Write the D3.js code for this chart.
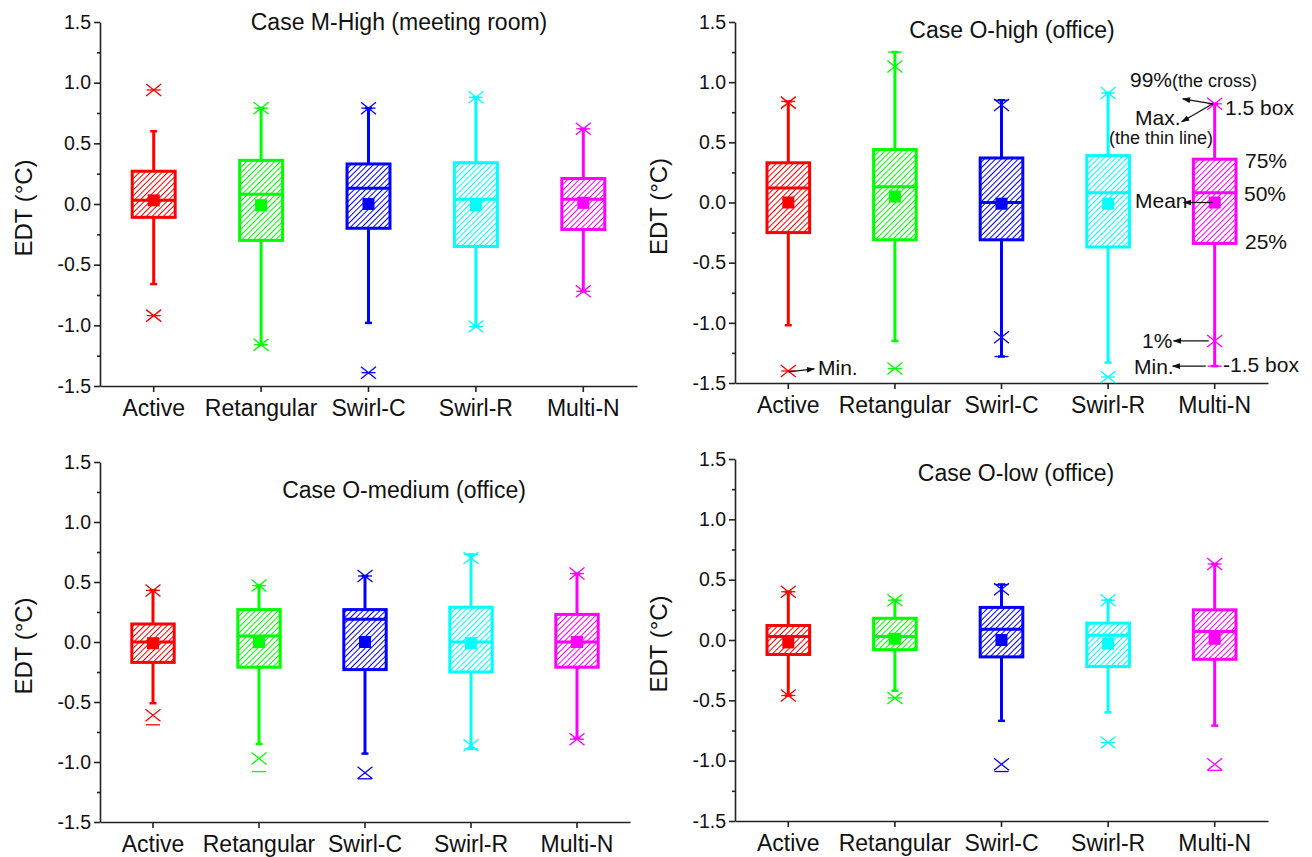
<!DOCTYPE html>
<html lang="en">
<head>
<meta charset="UTF-8">
<title>EDT box charts</title>
<script src="https://cdn.jsdelivr.net/npm/d3@7/dist/d3.min.js"></script>
<style>
  body { margin: 0; background: #fff; }
  svg text { font-family: "Liberation Sans", Arial, sans-serif; fill: #111; }
  .axis path, .axis line { stroke: #222; stroke-width: 1.6px; }
</style>
</head>
<body>
<svg id="chart" width="1312" height="857"></svg>
<script>
const categories = ["Active", "Retangular", "Swirl-C", "Swirl-R", "Multi-N"];
const colors = ["#ff0000", "#00ff00", "#0000ff", "#00ffff", "#ff00ff"];
const titles = ["Case M-High (meeting room)", "Case O-high (office)", "Case O-medium (office)", "Case O-low (office)"];
const yTicks = [-1.5, -1.0, -0.5, 0.0, 0.5, 1.0, 1.5];
const yMinorTicks = [-1.25, -0.75, -0.25, 0.25, 0.75, 1.25];

// one row per panel: M-High, O-high, O-medium, O-low
const q3 = [
  [0.27, 0.36, 0.33, 0.34, 0.21],
  [0.33, 0.44, 0.37, 0.39, 0.36],
  [0.15, 0.27, 0.27, 0.29, 0.23],
  [0.12, 0.18, 0.27, 0.14, 0.25]
];
const median = [
  [0.03, 0.08, 0.13, 0.04, 0.04],
  [0.12, 0.13, 0.00, 0.08, 0.08],
  [0.00, 0.05, 0.19, 0.00, 0.00],
  [0.03, 0.03, 0.09, 0.04, 0.07]
];
const q1 = [
  [-0.11, -0.30, -0.20, -0.35, -0.21],
  [-0.25, -0.31, -0.31, -0.37, -0.34],
  [-0.17, -0.21, -0.23, -0.25, -0.21],
  [-0.12, -0.08, -0.14, -0.22, -0.16]
];
const mean = [
  [0.03, -0.01, 0.00, -0.01, 0.01],
  [0.00, 0.05, -0.01, -0.01, 0.00],
  [-0.01, 0.00, 0.00, -0.01, 0.00],
  [-0.02, 0.01, 0.00, -0.03, 0.01]
];
const whiskerHi = [
  [0.60, 0.79, 0.79, 0.88, 0.62],
  [0.84, 1.25, 0.85, 0.91, 0.82],
  [0.43, 0.47, 0.55, 0.73, 0.57],
  [0.40, 0.33, 0.46, 0.33, 0.63]
];
const whiskerLo = [
  [-0.66, -1.16, -0.98, -1.01, -0.72],
  [-1.02, -1.15, -1.28, -1.33, -1.36],
  [-0.51, -0.85, -0.93, -0.89, -0.80],
  [-0.46, -0.42, -0.67, -0.60, -0.71]
];
const p99 = [
  [0.94, 0.79, 0.79, 0.88, 0.62],
  [0.83, 1.13, 0.81, 0.91, 0.82],
  [0.43, 0.47, 0.55, 0.70, 0.57],
  [0.40, 0.33, 0.42, 0.33, 0.63]
];
const p1 = [
  [-0.92, -1.16, -1.39, -1.01, -0.72],
  [-1.40, -1.38, -1.12, -1.45, -1.15],
  [-0.61, -0.97, -1.09, -0.86, -0.81],
  [-0.46, -0.48, -1.03, -0.85, -1.03]
];
const maxVal = [
  [0.94, 0.79, 0.79, 0.88, 0.62],
  [0.84, 1.25, 0.85, 0.91, 0.82],
  [0.43, 0.47, 0.55, 0.73, 0.57],
  [0.40, 0.33, 0.46, 0.33, 0.63]
];
const minVal = [
  [-0.92, -1.16, -1.39, -1.01, -0.72],
  [-1.40, -1.38, -1.28, -1.45, -1.36],
  [-0.69, -1.08, -1.14, -0.89, -0.81],
  [-0.46, -0.48, -1.09, -0.85, -1.08]
];

// panel placement (plot area edges, title position)
const panels = [
  { x0: 100, x1: 637, yTop: 22, yBot: 386, tx: 399, ty: 30 },
  { x0: 735, x1: 1268, yTop: 22, yBot: 383, tx: 1012, ty: 38 },
  { x0: 100, x1: 630, yTop: 462, yBot: 822, tx: 404, ty: 498 },
  { x0: 735, x1: 1268, yTop: 459, yBot: 821, tx: 1016, ty: 481 }
];

const svg = d3.select("#chart");
const defs = svg.append("defs");

colors.forEach((c, i) => {
  const p = defs.append("pattern")
    .attr("id", "hatch" + i)
    .attr("patternUnits", "userSpaceOnUse")
    .attr("width", 4).attr("height", 4)
    .attr("patternTransform", "rotate(45)");
  p.append("rect").attr("width", 4).attr("height", 4).attr("fill", "#fff");
  p.append("line").attr("x1", 0).attr("y1", 0).attr("x2", 0).attr("y2", 4)
    .attr("stroke", c).attr("stroke-width", 2);
});

defs.append("marker")
  .attr("id", "arrow")
  .attr("viewBox", "0 0 10 10")
  .attr("refX", 9).attr("refY", 5)
  .attr("markerWidth", 7).attr("markerHeight", 7)
  .attr("orient", "auto")
  .append("path").attr("d", "M0,1.5 L10,5 L0,8.5 Z").attr("fill", "#111");

const scales = [];

panels.forEach((pn, k) => {
  const g = svg.append("g");

  const x = d3.scaleBand().domain(categories).range([pn.x0, pn.x1]).padding(0);
  const y = d3.scaleLinear().domain([-1.5, 1.5]).range([pn.yBot, pn.yTop]);
  scales.push({ x, y });
  const bw = x.bandwidth() * 0.4;
  const cx = c => x(c) + x.bandwidth() / 2;

  // axes
  const ya = g.append("g").attr("class", "axis")
    .attr("transform", `translate(${pn.x0},0)`)
    .call(d3.axisLeft(y).tickValues(yTicks).tickSize(6).tickSizeOuter(0).tickPadding(3)
      .tickFormat(d => d.toFixed(1)));
  ya.selectAll("text").style("font-size", "19.5px").attr("fill", "#111");
  g.append("g").attr("class", "axis")
    .attr("transform", `translate(${pn.x0},0)`)
    .call(d3.axisLeft(y).tickValues(yMinorTicks).tickSize(3).tickFormat(""))
    .select(".domain").remove();

  const xa = g.append("g").attr("class", "axis")
    .attr("transform", `translate(0,${pn.yBot})`)
    .call(d3.axisBottom(x).tickSize(6).tickSizeOuter(0).tickPadding(8));
  xa.selectAll("text").style("font-size", "23px").attr("fill", "#111");

  g.append("text")
    .attr("transform", `translate(${pn.x0 - 68},${(pn.yTop + pn.yBot) / 2 + 4}) rotate(-90)`)
    .attr("text-anchor", "middle")
    .style("font-size", "24px")
    .text("EDT (°C)");

  g.append("text")
    .attr("x", pn.tx).attr("y", pn.ty)
    .attr("text-anchor", "middle")
    .style("font-size", "23px")
    .text(titles[k]);

  categories.forEach((c, i) => {
    const col = colors[i];
    const xc = cx(c);
    const b = g.append("g");

    // whisker
    b.append("line")
      .attr("x1", xc).attr("x2", xc)
      .attr("y1", y(whiskerLo[k][i])).attr("y2", y(whiskerHi[k][i]))
      .attr("stroke", col).attr("stroke-width", 3);
    [whiskerLo[k][i], whiskerHi[k][i]].forEach(v => {
      b.append("line")
        .attr("x1", xc - 3.5).attr("x2", xc + 3.5)
        .attr("y1", y(v)).attr("y2", y(v))
        .attr("stroke", col).attr("stroke-width", 2.5);
    });

    // box
    b.append("rect")
      .attr("x", xc - bw / 2).attr("width", bw)
      .attr("y", y(q3[k][i])).attr("height", y(q1[k][i]) - y(q3[k][i]))
      .attr("fill", `url(#hatch${i})`)
      .attr("stroke", col).attr("stroke-width", 3);
    b.append("line")
      .attr("x1", xc - bw / 2).attr("x2", xc + bw / 2)
      .attr("y1", y(median[k][i])).attr("y2", y(median[k][i]))
      .attr("stroke", col).attr("stroke-width", 3);

    // mean
    b.append("rect")
      .attr("x", xc - 6).attr("y", y(mean[k][i]) - 6)
      .attr("width", 12).attr("height", 12)
      .attr("fill", col);

    // 1% / 99% crosses
    [p1[k][i], p99[k][i]].forEach(v => {
      b.append("path")
        .attr("d", `M${xc - 7.5},${y(v) - 6}L${xc + 7.5},${y(v) + 6}M${xc - 7.5},${y(v) + 6}L${xc + 7.5},${y(v) - 6}`)
        .attr("stroke", col).attr("stroke-width", 1.3).attr("fill", "none");
    });

    // min / max dashes
    [minVal[k][i], maxVal[k][i]].forEach(v => {
      b.append("line")
        .attr("x1", xc - 7).attr("x2", xc + 7)
        .attr("y1", y(v)).attr("y2", y(v))
        .attr("stroke", col).attr("stroke-width", 1.3);
    });
  });
});

// explanation labels on the O-high panel
const s = scales[1];
const mx = s.x("Multi-N") + s.x.bandwidth() / 2;
const ax = s.x("Active") + s.x.bandwidth() / 2;
const ann = svg.append("g");

function arrow(x1, y1, x2, y2) {
  ann.append("line")
    .attr("x1", x1).attr("y1", y1).attr("x2", x2).attr("y2", y2)
    .attr("stroke", "#111").attr("stroke-width", 1.2)
    .attr("marker-end", "url(#arrow)");
}
function label(txt, x, y, size) {
  return ann.append("text").attr("x", x).attr("y", y).style("font-size", size + "px").text(txt);
}

const t99 = label("99%", 1130, 87, 21);
t99.append("tspan").style("font-size", "18px").text("(the cross)");
label("1.5 box", 1225, 115, 21);
label("Max.", 1135, 125, 21);
label("(the thin line)", 1109, 144, 18);
label("75%", 1245, 168, 21);
label("50%", 1244, 201, 21);
label("25%", 1245, 249, 21);
label("Mean", 1135, 208, 21);
label("1%", 1142, 348, 21);
label("Min.", 1134, 374, 21);
label("-1.5 box", 1223, 372, 21);
label("Min.", 818, 375, 21);

arrow(mx - 2, s.y(p99[1][4]), mx - 32, s.y(p99[1][4]) - 5);
arrow(mx - 2, s.y(p99[1][4]), mx - 33, s.y(p99[1][4]) + 18);
arrow(mx - 2, s.y(mean[1][4]), mx - 31, s.y(mean[1][4]));
arrow(mx - 6, s.y(p1[1][4]), mx - 41, s.y(p1[1][4]));
arrow(mx - 9, s.y(minVal[1][4]), mx - 42, s.y(minVal[1][4]));
arrow(ax, s.y(minVal[1][0]) + 1, ax + 26, s.y(minVal[1][0]) - 2);
</script>
</body>
</html>
